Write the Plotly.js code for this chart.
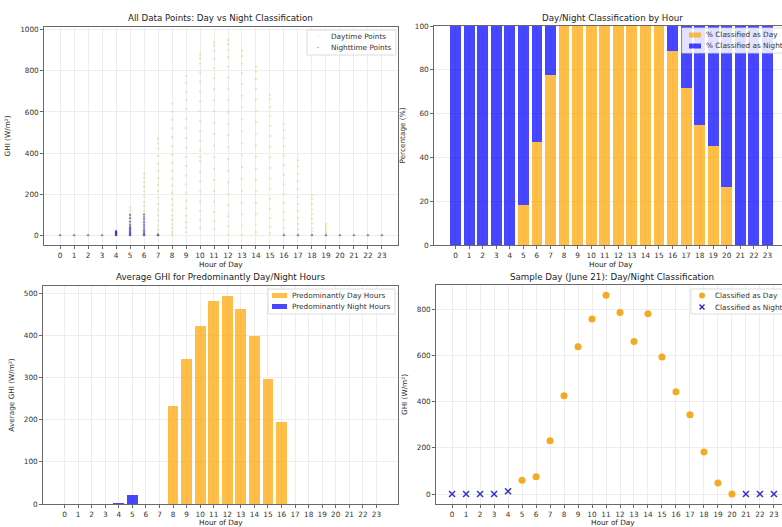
<!DOCTYPE html>
<html>
<head>
<meta charset="utf-8">
<script src="https://cdn.plot.ly/plotly-3.0.1.min.js"></script>
<style>
html, body { margin: 0; padding: 0; overflow: hidden; background: #fff; }
#chart { width: 800px; height: 540px; }
</style>
</head>
<body>
<div id="chart"></div>
<script>
// ---------- DATA ----------
const hours = [0,1,2,3,4,5,6,7,8,9,10,11,12,13,14,15,16,17,18,19,20,21,22,23];
const hourLabels = ["0","1","2","3","4","5","6","7","8","9","10","11","12","13","14","15","16","17","18","19","20","21","22","23"];

// Panel 1: all data points, listed per hour (index = hour)
const dayPointsByHour = [
  [], [], [], [], [],
  [48, 66, 88, 104, 121, 135],
  [102, 118, 141, 163, 188, 214, 236, 259, 281, 300],
  [8, 26, 47, 71, 96, 124, 152, 183, 214, 246, 279, 313, 348, 386, 422, 447, 470],
  [4, 16, 33, 52, 74, 97, 121, 148, 176, 207, 241, 276, 312, 351, 392, 434, 478, 521, 563, 602, 640],
  [14, 37, 63, 95, 131, 168, 207, 248, 291, 336, 381, 427, 473, 521, 568, 614, 657, 699, 741, 775],
  [38, 72, 118, 163, 211, 262, 311, 362, 381, 414, 459, 507, 556, 603, 652, 701, 748, 793, 836, 862, 880],
  [31, 68, 112, 163, 214, 268, 323, 379, 436, 492, 547, 603, 656, 711, 764, 813, 858, 897, 924, 940],
  [3, 44, 92, 146, 201, 257, 314, 371, 428, 486, 543, 601, 657, 712, 768, 821, 866, 903, 931, 950],
  [2, 47, 101, 158, 216, 273, 331, 389, 447, 506, 563, 622, 679, 736, 788, 836, 873, 900],
  [14, 53, 104, 157, 212, 268, 324, 381, 437, 494, 551, 606, 661, 713, 761, 797, 820],
  [9, 41, 83, 129, 177, 226, 276, 327, 379, 431, 482, 532, 579, 623, 661, 685],
  [8, 36, 73, 114, 157, 201, 247, 293, 340, 387, 432, 474, 511, 540],
  [7, 27, 54, 84, 117, 151, 187, 224, 262, 299, 334, 365],
  [4, 18, 36, 57, 79, 102, 126, 151, 176, 195],
  [4, 13, 23, 33, 44, 55],
  [], [], [], []
];
const nightPointsByHour = [
  [0], [0], [0], [0],
  [0, 2, 5, 8, 11, 14, 17, 20],
  [0, 3, 7, 12, 17, 23, 29, 35, 41, 52, 66, 82, 98],
  [0, 4, 11, 19, 28, 39, 51, 63, 76, 88, 100],
  [0, 2],
  [], [], [], [], [], [], [], [],
  [0], [0], [0], [0],
  [0], [0], [0], [0]
];

// Panel 2: % classified as day / night by hour
const pctDay   = [0, 0, 0, 0, 0, 18.3, 47.0, 77.5, 100, 100, 100, 100, 100, 100, 100, 100, 88.5, 71.5, 55.0, 45.0, 26.5, 0, 0, 0];
const pctNight = [100, 100, 100, 100, 100, 81.7, 53.0, 22.5, 0, 0, 0, 0, 0, 0, 0, 0, 11.5, 28.5, 45.0, 55.0, 73.5, 100, 100, 100];

// Panel 3: average GHI for predominantly day / night hours
const dayAvgHours   = [8, 9, 10, 11, 12, 13, 14, 15, 16];
const dayAvgGHI     = [233, 345, 423, 482, 494, 463, 398, 296, 194];
const nightAvgHours = [0, 1, 2, 3, 4, 5, 6, 7, 17, 18, 19, 20, 21, 22, 23];
const nightAvgGHI   = [0, 0, 0, 0, 3, 22, 0, 0, 0, 0, 0, 0, 0, 0, 0];

// Panel 4: sample day (June 21)
const sampleDayHours   = [5, 6, 7, 8, 9, 10, 11, 12, 13, 14, 15, 16, 17, 18, 19, 20];
const sampleDayGHI     = [60, 75, 230, 425, 637, 757, 860, 785, 660, 780, 593, 442, 343, 182, 48, 0];
const sampleNightHours = [0, 1, 2, 3, 4, 21, 22, 23];
const sampleNightGHI   = [0, 0, 0, 0, 12, 0, 0, 0];

// ---------- BUILD ----------
const W = 800, H = 540;
const px = v => v / W;
const py = v => 1 - v / H;

function flatten(byHour) {
  const x = [], y = [];
  byHour.forEach((vals, h) => vals.forEach(v => { x.push(hours[h]); y.push(v); }));
  return {x, y};
}
const dayPts = flatten(dayPointsByHour);
const nightPts = flatten(nightPointsByHour);

const ORANGE = 'rgba(255,165,0,0.72)';
const BLUE = 'rgba(0,0,255,0.72)';
const DAYPT = 'rgba(235,190,60,0.42)';
const NIGHTPT = 'rgba(40,40,170,0.5)';
const SDAY = 'rgba(245,160,10,0.9)';
const SNIGHT = 'rgba(30,30,190,0.9)';
const FONT = 'DejaVu Sans, sans-serif';
const TXT = '#333';

const traces = [
  {type: 'scatter', mode: 'markers', x: dayPts.x, y: dayPts.y, name: 'Daytime Points',
   xaxis: 'x', yaxis: 'y', marker: {color: DAYPT, size: 2.2}},
  {type: 'scatter', mode: 'markers', x: nightPts.x, y: nightPts.y, name: 'Nighttime Points',
   xaxis: 'x', yaxis: 'y', marker: {color: NIGHTPT, size: 2.4}},
  {type: 'bar', x: hours, y: pctDay, name: '% Classified as Day',
   xaxis: 'x2', yaxis: 'y2', width: 0.8, marker: {color: ORANGE, line: {width: 0}}},
  {type: 'bar', x: hours, y: pctNight, name: '% Classified as Night',
   xaxis: 'x2', yaxis: 'y2', width: 0.8, marker: {color: BLUE, line: {width: 0}}},
  {type: 'bar', x: dayAvgHours, y: dayAvgGHI, name: 'Predominantly Day Hours',
   xaxis: 'x3', yaxis: 'y3', width: 0.8, marker: {color: ORANGE, line: {width: 0}}},
  {type: 'bar', x: nightAvgHours, y: nightAvgGHI, name: 'Predominantly Night Hours',
   xaxis: 'x3', yaxis: 'y3', width: 0.8, marker: {color: BLUE, line: {width: 0}}},
  {type: 'scatter', mode: 'markers', x: sampleDayHours, y: sampleDayGHI, name: 'Classified as Day',
   xaxis: 'x4', yaxis: 'y4', marker: {color: SDAY, size: 7, symbol: 'circle'}},
  {type: 'scatter', mode: 'markers', x: sampleNightHours, y: sampleNightGHI, name: 'Classified as Night',
   xaxis: 'x4', yaxis: 'y4',
   marker: {color: SNIGHT, size: 6, symbol: 'x-thin', line: {color: SNIGHT, width: 1.5}}}
];

function xAxis(domain, range, anchor) {
  return {
    domain: domain, range: range, anchor: anchor,
    tickmode: 'array', tickvals: hours, ticktext: hourLabels,
    showgrid: true, gridcolor: '#e8e8e8', gridwidth: 0.8, zeroline: false,
    showline: true, linecolor: '#444', linewidth: 0.8, mirror: true,
    ticks: 'outside', ticklen: 3, tickcolor: '#444', tickwidth: 0.8,
    tickfont: {family: FONT, size: 7.3, color: TXT},
    automargin: false, fixedrange: true
  };
}
function yAxis(domain, range, dtick, anchor, title) {
  return {
    domain: domain, range: range, anchor: anchor,
    tick0: 0, dtick: dtick,
    showgrid: true, gridcolor: '#e8e8e8', gridwidth: 0.8, zeroline: false,
    showline: true, linecolor: '#444', linewidth: 0.8, mirror: true,
    ticks: 'outside', ticklen: 3, tickcolor: '#444', tickwidth: 0.8,
    tickfont: {family: FONT, size: 7.3, color: TXT},
    title: {text: title, font: {family: FONT, size: 7.3, color: TXT}, standoff: 8},
    automargin: false, fixedrange: true
  };
}
function titleAnn(text, xc, yc, size) {
  return {
    text: text, xref: 'paper', yref: 'paper', x: px(xc), y: py(yc),
    xanchor: 'center', yanchor: 'middle', showarrow: false,
    font: {family: FONT, size: size || 8.7, color: '#222'}
  };
}

// Hand-drawn matplotlib-style legends (box + swatches + real text labels)
const shapes = [];
const annotations = [
  titleAnn('All Data Points: Day vs Night Classification', 220, 18),
  titleAnn('Day/Night Classification by Hour', 612, 18),
  titleAnn('Average GHI for Predominantly Day/Night Hours', 220, 277),
  titleAnn('Sample Day (June 21): Day/Night Classification', 612, 277),
  titleAnn('Hour of Day', 221, 264, 7.3),
  titleAnn('Hour of Day', 611, 264, 7.3),
  titleAnn('Hour of Day', 221, 522, 7.3),
  titleAnn('Hour of Day', 613, 522, 7.3)
];
function legendBox(x0, y0, x1, y1) {
  shapes.push({type: 'rect', xref: 'paper', yref: 'paper', x0: px(x0), x1: px(x1), y0: py(y1), y1: py(y0),
    fillcolor: 'rgba(255,255,255,0.85)', line: {color: '#d4d4d4', width: 0.8}, layer: 'above'});
}
function legendText(text, x, y) {
  annotations.push({text: text, xref: 'paper', yref: 'paper', x: px(x), y: py(y),
    xanchor: 'left', yanchor: 'middle', showarrow: false,
    font: {family: FONT, size: 7.3, color: TXT}});
}
function rectSwatch(color, x0, x1, yc, h) {
  shapes.push({type: 'rect', xref: 'paper', yref: 'paper', x0: px(x0), x1: px(x1),
    y0: py(yc + h / 2), y1: py(yc - h / 2), fillcolor: color, line: {width: 0}, layer: 'above'});
}
function dotSwatch(color, xc, yc, r) {
  shapes.push({type: 'circle', xref: 'paper', yref: 'paper', x0: px(xc - r), x1: px(xc + r),
    y0: py(yc + r), y1: py(yc - r), fillcolor: color, line: {width: 0}, layer: 'above'});
}
function xSwatch(color, xc, yc, r) {
  shapes.push({type: 'line', xref: 'paper', yref: 'paper', x0: px(xc - r), x1: px(xc + r),
    y0: py(yc - r), y1: py(yc + r), line: {color: color, width: 1.5}, layer: 'above'});
  shapes.push({type: 'line', xref: 'paper', yref: 'paper', x0: px(xc - r), x1: px(xc + r),
    y0: py(yc + r), y1: py(yc - r), line: {color: color, width: 1.5}, layer: 'above'});
}

// legend 1 (top-left)
legendBox(307, 30, 396, 55);
dotSwatch(DAYPT, 318, 36.5, 0.8);
dotSwatch(NIGHTPT, 318, 47.5, 0.8);
legendText(traces[0].name, 329, 36.5);
legendText(traces[1].name, 329, 47.5);
// legend 2 (top-right)
legendBox(682, 28, 788, 53);
rectSwatch(ORANGE, 689, 701, 35, 5);
rectSwatch(BLUE, 689, 701, 46, 5);
legendText(traces[2].name, 704, 35);
legendText(traces[3].name, 704, 46);
// legend 3 (bottom-left)
legendBox(268, 289, 395, 314);
rectSwatch(ORANGE, 272, 287, 295.5, 5);
rectSwatch(BLUE, 272, 287, 306.5, 5);
legendText(traces[4].name, 290, 295.5);
legendText(traces[5].name, 290, 306.5);
// legend 4 (bottom-right)
legendBox(691, 289, 790, 314);
dotSwatch(SDAY, 702, 295.5, 3);
xSwatch(SNIGHT, 702, 307, 2.5);
legendText(traces[6].name, 713, 295.5);
legendText(traces[7].name, 713, 307);

const layout = {
  width: W, height: H,
  margin: {l: 0, r: 0, t: 0, b: 0},
  paper_bgcolor: '#fff', plot_bgcolor: '#fff',
  barmode: 'stack',
  showlegend: false,
  font: {family: FONT, size: 7.3, color: TXT},
  xaxis:  xAxis([px(44), px(398)], [-1.15, 24.15], 'y'),
  yaxis:  yAxis([py(245), py(27)], [-48, 1014], 200, 'x', 'GHI (W/m²)'),
  xaxis2: xAxis([px(434), px(789)], [-1.59, 24.59], 'y2'),
  yaxis2: yAxis([py(245), py(26)], [0, 100], 20, 'x2', 'Percentage (%)'),
  xaxis3: xAxis([px(43), px(398)], [-1.59, 24.59], 'y3'),
  yaxis3: yAxis([py(504), py(286)], [0, 517], 100, 'x3', 'Average GHI (W/m²)'),
  xaxis4: xAxis([px(436), px(790)], [-1.15, 24.15], 'y4'),
  yaxis4: yAxis([py(504), py(285)], [-43, 904], 200, 'x4', 'GHI (W/m²)'),
  shapes: shapes,
  annotations: annotations
};

Plotly.newPlot('chart', traces, layout, {staticPlot: true, displayModeBar: false});
</script>
</body>
</html>
